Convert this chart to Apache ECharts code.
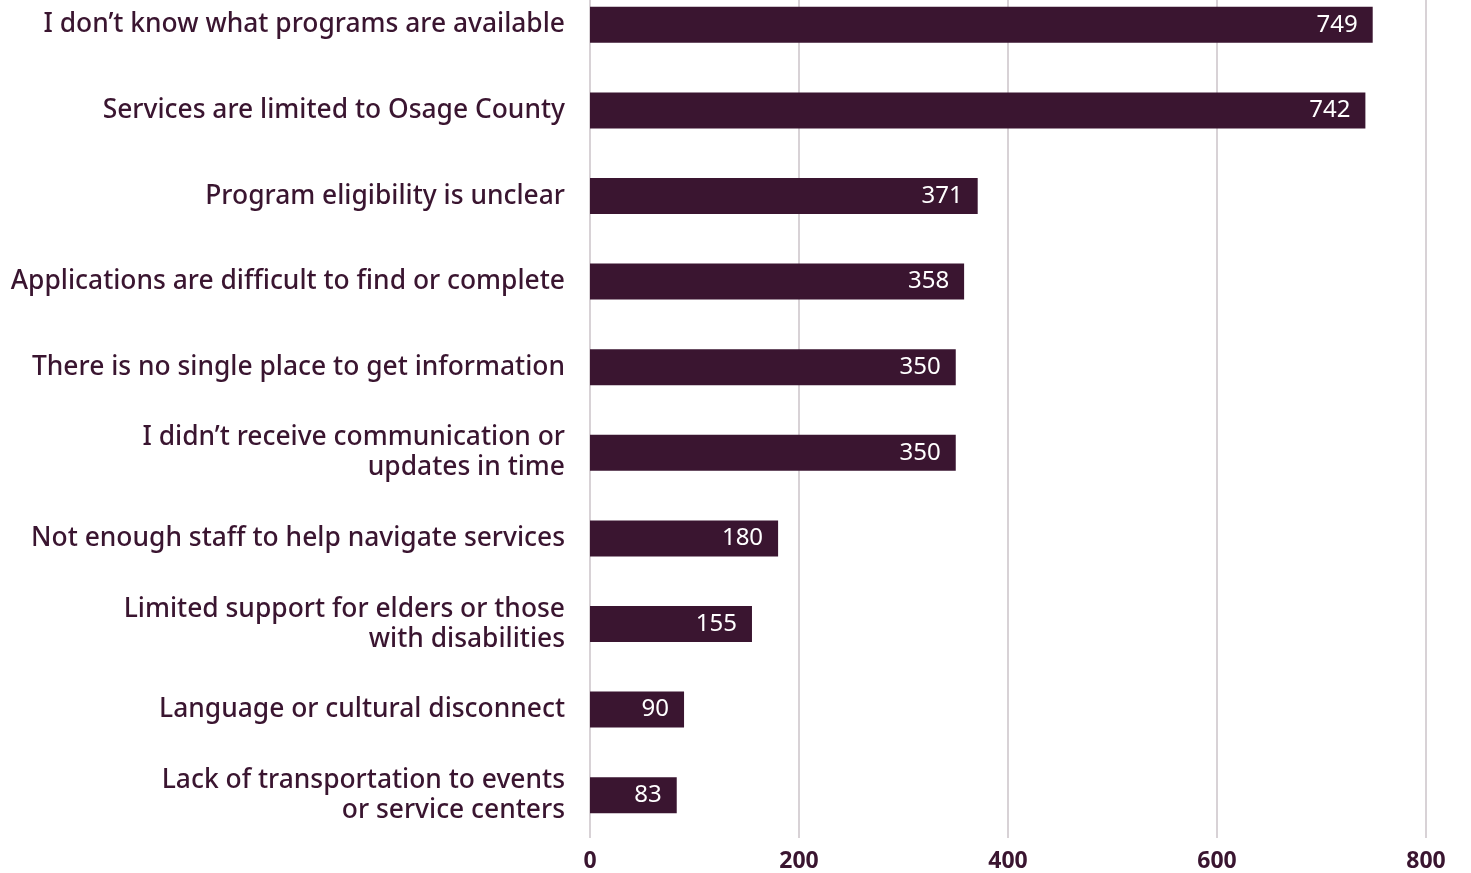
<!DOCTYPE html>
<html><head><meta charset="utf-8">
<script src="https://cdn.jsdelivr.net/npm/echarts@6/dist/echarts.min.js"></script>
<style>html,body{margin:0;padding:0;background:#fff;overflow:hidden}#c{width:1471px;height:891px;margin-top:-18px}</style>
</head><body><div id="c"></div>
<script>
const categories = [
  "I don\u2019t know what programs are available",
  "Services are limited to Osage County",
  "Program eligibility is unclear",
  "Applications are difficult to find or complete",
  "There is no single place to get information",
  "I didn\u2019t receive communication or\nupdates in time",
  "Not enough staff to help navigate services",
  "Limited support for elders or those\nwith disabilities",
  "Language or cultural disconnect",
  "Lack of transportation to events\nor service centers"
];
const values = [749, 742, 371, 358, 350, 350, 180, 155, 90, 83];
const xTicks = [0, 200, 400, 600, 800];

const DARK = '#3a1530';
const FONT = '"Noto Sans", Lato, sans-serif';
const chart = echarts.init(document.getElementById('c'));
chart.setOption({
  animation: false,
  grid: { left: 590, right: 45, top: 0, bottom: 35, containLabel: false, outerBoundsMode: 'none' },
  xAxis: {
    type: 'value', min: xTicks[0], max: xTicks[xTicks.length - 1], interval: 200,
    axisLine: { show: false }, axisTick: { show: false },
    splitLine: { show: true, lineStyle: { color: '#cbc3c9', width: 1.5 } },
    axisLabel: { color: DARK, fontFamily: FONT, fontWeight: 'bold', fontSize: 23, margin: 12 }
  },
  yAxis: {
    type: 'category', data: categories, inverse: true,
    axisLine: { show: false }, axisTick: { show: false },
    axisLabel: { color: DARK, fontFamily: FONT, fontSize: 26.4, fontWeight: 500, lineHeight: 30, align: 'right', margin: 25 }
  },
  series: [{
    type: 'bar', data: values, barWidth: 36,
    itemStyle: { color: DARK },
    label: { show: true, position: 'insideRight', offset: [-10, 0], color: '#fff', fontFamily: FONT, fontSize: 24 }
  }]
});
</script></body></html>
